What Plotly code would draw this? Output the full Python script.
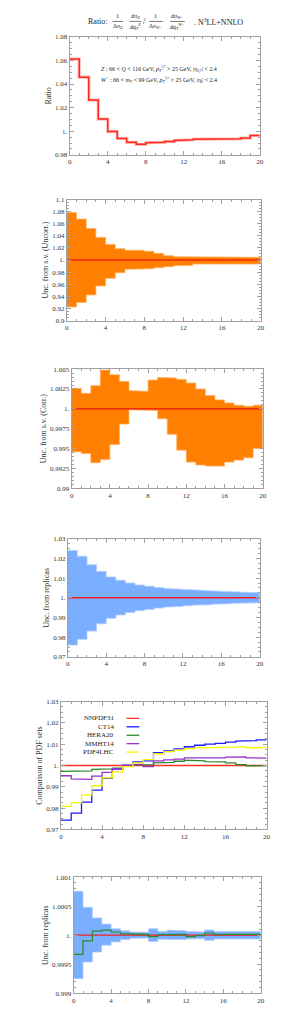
import plotly.graph_objects as go

W, H = 291, 1013
FONT = "Liberation Serif, DejaVu Serif, serif"

edges = list(range(0, 21))

# Panel 1: ratio
ratio = [1.0611, 1.0458, 1.0264, 1.0103, 0.9997, 0.9939, 0.9906, 0.9889, 0.9903, 0.9906,
         0.9914, 0.9922, 0.9928, 0.9933, 0.9936, 0.9933, 0.9933, 0.9936, 0.9942, 0.9964]

# Panel 2: uncorrelated scale-variation band
unc_up = [1.0786, 1.0676, 1.0522, 1.0374, 1.0258, 1.0187, 1.0160, 1.0160, 1.0143, 1.0110,
          1.0071, 1.0055, 1.0055, 1.0044, 1.0044, 1.0044, 1.0044, 1.0044, 1.0044, 1.0044]
unc_lo = [0.9225, 0.9300, 0.9423, 0.9571, 0.9698, 0.9791, 0.9846, 0.9846, 0.9857, 0.9874,
          0.9890, 0.9907, 0.9912, 0.9934, 0.9934, 0.9934, 0.9934, 0.9934, 0.9934, 0.9934]

# Panel 3: correlated scale-variation band
cor_up = [1.00258, 1.00196, 1.00292, 1.00488, 1.00429, 1.00346, 1.00229, 1.00221, 1.00363, 1.00396,
          1.00388, 1.00371, 1.00325, 1.00250, 1.00167, 1.00113, 1.00075, 1.00046, 1.00033, 1.00046]
cor_lo = [0.99458, 0.99438, 0.99321, 0.99363, 0.99550, 0.99808, 0.99988, 0.99988, 0.99979, 0.99875,
          0.99679, 0.99479, 0.99329, 0.99292, 0.99279, 0.99279, 0.99329, 0.99354, 0.99383, 0.99500]

# Panel 4: replicas band
rep_up = [1.0241, 1.0211, 1.0168, 1.0134, 1.0106, 1.0089, 1.0075, 1.0065, 1.0059, 1.0052,
          1.0047, 1.0044, 1.0042, 1.0039, 1.0037, 1.0034, 1.0032, 1.0030, 1.0028, 1.0027]
rep_lo = [0.9760, 0.9789, 0.9831, 0.9868, 0.9896, 0.9913, 0.9926, 0.9935, 0.9941, 0.9948,
          0.9953, 0.9956, 0.9960, 0.9963, 0.9965, 0.9968, 0.9970, 0.9972, 0.9973, 0.9975]

# Panel 5: PDF set comparison
pdf_names = ["NNPDF31", "CT14", "HERA20", "MMHT14", "PDF4LHC"]
nnpdf31 = [1.0] * 20
ct14 = [0.9744, 0.9777, 0.9828, 0.9885, 0.9940, 0.9983, 1.0002, 1.0017, 1.0022, 1.0060,
        1.0068, 1.0078, 1.0088, 1.0095, 1.0100, 1.0104, 1.0110, 1.0114, 1.0117, 1.0120]
hera20 = [0.9972, 0.9972, 0.9975, 0.9982, 0.9984, 0.9988, 0.9998, 1.0003, 1.0004, 1.0012,
          1.0015, 1.0020, 1.0025, 1.0022, 1.0018, 1.0017, 1.0012, 1.0004, 0.9998, 0.9999]
mmht14 = [0.9952, 0.9937, 0.9935, 0.9950, 0.9968, 0.9985, 0.9999, 1.0005, 0.9995, 1.0022,
          1.0026, 1.0030, 1.0036, 1.0038, 1.0035, 1.0036, 1.0039, 1.0040, 1.0036, 1.0035]
pdf4lhc = [0.9808, 0.9826, 0.9862, 0.9905, 0.9942, 0.9970, 0.9995, 1.0012, 1.0028, 1.0055,
           1.0065, 1.0072, 1.0079, 1.0083, 1.0085, 1.0085, 1.0086, 1.0087, 1.0082, 1.0085]
pdf_colors = ["#ff3020", "#1a1aff", "#2a8a2a", "#9933cc", "#f5f500"]

# Panel 6: replicas band (fine) and comparison line
fin_up = [1.000756, 1.000479, 1.000297, 1.000190, 1.000110, 1.000076, 1.000054, 1.000050, 1.000110, 1.000065,
          1.000088, 1.000076, 1.000065, 1.000054, 1.000088, 1.000065, 1.000070, 1.000060, 1.000070, 1.000065]
fin_lo = [0.999250, 0.999538, 0.999708, 0.999827, 0.999884, 0.999924, 0.999946, 0.999950, 0.999890, 0.999930,
          0.999920, 0.999924, 0.999935, 0.999940, 0.999910, 0.999935, 0.999930, 0.999940, 0.999930, 0.999935]
fin_line = [0.999669, 0.999901, 1.000071, 1.000088, 1.000054, 1.000025, 1.000020, 1.000014, 0.999975, 1.000008,
            1.000003, 1.000014, 0.999975, 0.999992, 1.000037, 1.000014, 1.000008, 1.000008, 1.000014, 1.000014]

x_ticks = [0, 4, 8, 12, 16, 20]

panels = [
    dict(px=(61, 255), py=(25, 144), yr=(0.98, 1.08),
         yt=[0.98, 1.0, 1.02, 1.04, 1.06, 1.08], ytt=["0.98", "1.", "1.02", "1.04", "1.06", "1.08"],
         minor=0.005, title="Ratio"),
    dict(px=(58, 256), py=(189, 311), yr=(0.9, 1.1),
         yt=[0.9, 0.92, 0.94, 0.96, 0.98, 1.0, 1.02, 1.04, 1.06, 1.08, 1.1],
         ytt=["0.9", "0.92", "0.94", "0.96", "0.98", "1.", "1.02", "1.04", "1.06", "1.08", "1.1"],
         minor=0.005, title="Unc. from s.v. (Uncorr.)"),
    dict(px=(63, 258), py=(360, 480), yr=(0.99, 1.005),
         yt=[0.99, 0.9925, 0.995, 0.9975, 1.0, 1.0025, 1.005],
         ytt=["0.99", "0.9925", "0.995", "0.9975", "1.", "1.0025", "1.005"],
         minor=0.0005, title="Unc. from s.v. (Corr.)"),
    dict(px=(59, 255), py=(531, 650), yr=(0.97, 1.03),
         yt=[0.97, 0.98, 0.99, 1.0, 1.01, 1.02, 1.03],
         ytt=["0.97", "0.98", "0.99", "1.", "1.01", "1.02", "1.03"],
         minor=0.0025, title="Unc. from replicas"),
    dict(px=(52, 262), py=(695, 824), yr=(0.97, 1.03),
         yt=[0.97, 0.98, 0.99, 1.0, 1.01, 1.02, 1.03],
         ytt=["0.97", "0.98", "0.99", "1.", "1.01", "1.02", "1.03"],
         minor=0.0025, title="Comparison of PDF sets"),
    dict(px=(65, 256), py=(872, 989), yr=(0.999, 1.001),
         yt=[0.999, 0.9995, 1.0, 1.0005, 1.001],
         ytt=["0.999", "0.9995", "1.", "1.0005", "1.001"],
         minor=0.0001, title="Unc. from replicas"),
]


def steps(vals):
    xs, ys = [], []
    for i, v in enumerate(vals):
        xs += [edges[i], edges[i + 1]]
        ys += [v, v]
    return xs, ys


def band(up, lo):
    xu, yu = steps(up)
    xl, yl = steps(lo)
    return xu + xl[::-1], yu + yl[::-1]


fig = go.Figure()
FRAME = "#a0a0a0"
layout = dict(width=W, height=H, margin=dict(l=0, r=0, t=0, b=0),
              paper_bgcolor="white", plot_bgcolor="white", showlegend=False,
              font=dict(family=FONT, color="#333333", size=7))

for k, p in enumerate(panels):
    n = "" if k == 0 else str(k + 1)
    xa = "x" + n
    ya = "y" + n
    layout["xaxis" + n] = dict(
        domain=[p["px"][0] / W, p["px"][1] / W], range=[0, 20], anchor=ya,
        tickvals=x_ticks, ticktext=[str(t) for t in x_ticks],
        ticks="inside", ticklen=4, tickcolor=FRAME, showline=True, linecolor=FRAME, linewidth=1,
        mirror="allticks", showgrid=False, zeroline=False,
        tickfont=dict(family=FONT, size=7, color="#333"),
        minor=dict(dtick=1, ticks="inside", ticklen=2, tickcolor=FRAME, showgrid=False))
    layout["yaxis" + n] = dict(
        domain=[1 - p["py"][1] / H, 1 - p["py"][0] / H], range=list(p["yr"]), anchor=xa,
        tickvals=p["yt"], ticktext=p["ytt"],
        ticks="inside", ticklen=4, tickcolor=FRAME, showline=True, linecolor=FRAME, linewidth=1,
        mirror="allticks", showgrid=False, zeroline=False,
        tickfont=dict(family=FONT, size=7, color="#333"),
        title=dict(text=p["title"], font=dict(family=FONT, size=8, color="#333"), standoff=2),
        minor=dict(dtick=p["minor"], tick0=p["yr"][0], ticks="inside", ticklen=2, tickcolor=FRAME, showgrid=False))

RED = "#ff2a1a"
ORANGE = "#ff8000"
BLUE = "#7aaeff"

# Panel 1
xs, ys = steps(ratio)
fig.add_trace(go.Scatter(x=xs, y=ys, mode="lines", line=dict(color="rgba(255,140,140,0.6)", width=3.2),
                         xaxis="x", yaxis="y", hoverinfo="skip"))
fig.add_trace(go.Scatter(x=xs, y=ys, mode="lines", line=dict(color=RED, width=1.5), xaxis="x", yaxis="y"))

# Panel 2
bx, by = band(unc_up, unc_lo)
fig.add_trace(go.Scatter(x=bx, y=by, fill="toself", fillcolor=ORANGE, mode="lines",
                         line=dict(color="#ffb060", width=0.8), xaxis="x2", yaxis="y2"))
fig.add_trace(go.Scatter(x=[0, 20], y=[1, 1], mode="lines", line=dict(color="#ee2a10", width=1.5),
                         xaxis="x2", yaxis="y2"))

# Panel 3
bx, by = band(cor_up, cor_lo)
fig.add_trace(go.Scatter(x=bx, y=by, fill="toself", fillcolor=ORANGE, mode="lines",
                         line=dict(color="#ffb060", width=0.8), xaxis="x3", yaxis="y3"))
fig.add_trace(go.Scatter(x=[0, 20], y=[1, 1], mode="lines", line=dict(color="#ee2a10", width=1.5),
                         xaxis="x3", yaxis="y3"))

# Panel 4
bx, by = band(rep_up, rep_lo)
fig.add_trace(go.Scatter(x=bx, y=by, fill="toself", fillcolor=BLUE, mode="lines",
                         line=dict(color="#b0ccff", width=0.8), xaxis="x4", yaxis="y4"))
fig.add_trace(go.Scatter(x=[0, 20], y=[1, 1], mode="lines", line=dict(color="#ee2020", width=1.5),
                         xaxis="x4", yaxis="y4"))

# Panel 5
for name, vals, col in zip(pdf_names, [nnpdf31, ct14, hera20, mmht14, pdf4lhc], pdf_colors):
    xs, ys = steps(vals)
    fig.add_trace(go.Scatter(x=xs, y=ys, mode="lines", line=dict(color=col, width=1.3), name=name,
                             xaxis="x5", yaxis="y5"))

# Panel 6
bx, by = band(fin_up, fin_lo)
fig.add_trace(go.Scatter(x=bx, y=by, fill="toself", fillcolor=BLUE, mode="lines",
                         line=dict(color="#b0ccff", width=0.8), xaxis="x6", yaxis="y6"))
fig.add_trace(go.Scatter(x=[0, 20], y=[1, 1], mode="lines", line=dict(color="#ee2020", width=1.2),
                         xaxis="x6", yaxis="y6"))
xs, ys = steps(fin_line)
fig.add_trace(go.Scatter(x=xs, y=ys, mode="lines", line=dict(color="#2a8a2a", width=1.2),
                         xaxis="x6", yaxis="y6"))

annotations = []
shapes = []


def px2paper(x, y):
    return x / W, 1 - y / H


def text_at(x, y, txt, size=8, anchor="center"):
    px, py = px2paper(x, y)
    annotations.append(dict(x=px, y=py, xref="paper", yref="paper", text=txt, showarrow=False,
                            xanchor=anchor, yanchor="middle", font=dict(family=FONT, size=size, color="#222")))


def frac(xc, num, den, width):
    text_at(xc, 4.5, num, size=6)
    text_at(xc, 14.5, den, size=6)
    x0, y0 = px2paper(xc - width / 2, 9.5)
    x1, _ = px2paper(xc + width / 2, 9.5)
    shapes.append(dict(type="line", xref="paper", yref="paper", x0=x0, x1=x1, y0=y0, y1=y0,
                       line=dict(color="#222", width=0.6)))


# Title built from pieces (fractions stacked)
text_at(90, 9.5, "Ratio:", size=8)
frac(110, "1", "Δσ<sub><i>Z</i></sub>", 11)
frac(128, "<i>d</i>σ<sub><i>Z</i></sub>", "<i>dq</i><sub><i>T</i></sub><sup><i>Z</i></sup>", 12)
text_at(137, 9.5, "/", size=8)
frac(149, "1", "Δσ<sub><i>W</i>−</sub>", 14)
frac(171, "<i>d</i>σ<sub><i>W</i>−</sub>", "<i>dq</i><sub><i>T</i></sub><sup><i>W</i>−</sup>", 15)
text_at(186, 10, ". N<sup>3</sup>LL+NNLO", size=8, anchor="left")

# Panel 1 labels
text_at(91, 57, "<i>Z</i> : 66 &lt; <i>Q</i> &lt; 116 GeV, <i>p</i><sub><i>T</i></sub><sup><i>l,l'</i></sup> &gt; 25 GeV, |η<sub><i>l,l'</i></sub>| &lt; 2.4",
        size=6, anchor="left")
text_at(91, 68, "<i>W</i><sup>−</sup> : 66 &lt; <i>m</i><sub><i>T</i></sub> &lt; 99 GeV, <i>p</i><sub><i>T</i></sub><sup><i>l,ν</i></sup> &gt; 25 GeV, |η<sub><i>l</i></sub>| &lt; 2.4",
        size=6, anchor="left")

# Panel 5 legend
leg_y = [712, 720.5, 729, 737.5, 746]
for name, col, yy in zip(pdf_names, pdf_colors, leg_y):
    text_at(108, yy, name, size=7, anchor="right")
    x0, y0 = px2paper(119, yy)
    x1, _ = px2paper(132, yy)
    shapes.append(dict(type="line", xref="paper", yref="paper", x0=x0, x1=x1, y0=y0, y1=y0,
                       line=dict(color=col, width=1.3)))

layout["annotations"] = annotations
layout["shapes"] = shapes
fig.update_layout(**layout)
fig.write_html("out.html")
